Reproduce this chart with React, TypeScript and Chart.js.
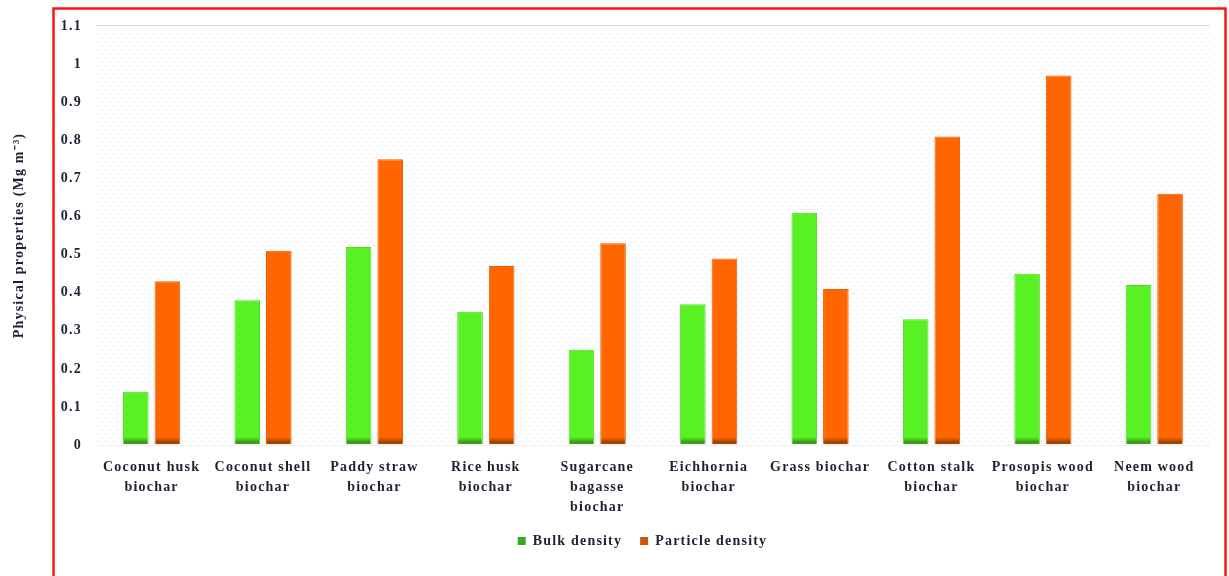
import React, { useEffect, useRef } from "react";
import { Chart, registerables } from "chart.js";

Chart.register(...registerables);

const categories: string[][] = [
  ["Coconut husk", "biochar"],
  ["Coconut shell", "biochar"],
  ["Paddy straw", "biochar"],
  ["Rice husk", "biochar"],
  ["Sugarcane", "bagasse", "biochar"],
  ["Eichhornia", "biochar"],
  ["Grass biochar"],
  ["Cotton stalk", "biochar"],
  ["Prosopis wood", "biochar"],
  ["Neem wood", "biochar"],
];

const bulkDensity: number[] = [0.14, 0.38, 0.52, 0.35, 0.25, 0.37, 0.61, 0.33, 0.45, 0.42];
const particleDensity: number[] = [0.43, 0.51, 0.75, 0.47, 0.53, 0.49, 0.41, 0.81, 0.97, 0.66];

const yTickLabels: string[] = ["0", "0.1", "0.2", "0.3", "0.4", "0.5", "0.6", "0.7", "0.8", "0.9", "1", "1.1"];

const seriesNames = ["Bulk density", "Particle density"];
const brightColors = ["#58f224", "#ff6600"];
const edgeColors = ["#4fdc1f", "#ec5e00"];
const darkColors = ["#3c9a1c", "#a04400"];
const legendColors = ["#3aa822", "#c9580e"];

const FONT = "'Liberation Serif', 'Times New Roman', serif";
const TEXT_COLOR = "#1b2333";
const SPACING = "1.2px";

function barColor(i: number) {
  return (ctx: any) => {
    const chart = ctx.chart;
    const area = chart.chartArea;
    if (!area) return brightColors[i];
    const g = chart.ctx.createLinearGradient(0, area.bottom, 0, area.bottom - 8);
    g.addColorStop(0, darkColors[i]);
    g.addColorStop(0.4, darkColors[i]);
    g.addColorStop(1, brightColors[i]);
    return g;
  };
}

let patternCache: CanvasPattern | null = null;
function getPattern(ctx: CanvasRenderingContext2D) {
  if (patternCache) return patternCache;
  const tile = document.createElement("canvas");
  tile.width = 8;
  tile.height = 8;
  const t = tile.getContext("2d")!;
  t.fillStyle = "#ffffff";
  t.fillRect(0, 0, 8, 8);
  t.fillStyle = "#c4d8ee";
  t.fillRect(1, 1, 1, 1);
  t.fillRect(5, 5, 1, 1);
  patternCache = ctx.createPattern(tile, "repeat");
  return patternCache;
}

const spacingPlugin = {
  id: "spacing",
  beforeUpdate(chart: any) {
    (chart.ctx as any).letterSpacing = SPACING;
  },
  afterLayout(chart: any) {
    // center the legend inside the framed region
    if (chart.legend) {
      chart.legend.left = 56;
      chart.legend.right = 1229;
    }
  },
  beforeDraw(chart: any) {
    (chart.ctx as any).letterSpacing = SPACING;
  },
};

const backgroundPlugin = {
  id: "dotBackground",
  beforeDatasetsDraw(chart: any) {
    const { ctx, chartArea } = chart;
    ctx.save();
    const p = getPattern(ctx);
    if (p) {
      ctx.fillStyle = p;
      const top = chart.scales.y.getPixelForValue(1.1);
      ctx.fillRect(chartArea.left, top, chartArea.right - chartArea.left, chartArea.bottom - top);
    }
    ctx.restore();
  },
};

const frameBorderPlugin = {
  id: "frameBorder",
  afterDraw(chart: any) {
    const ctx = chart.ctx;
    ctx.save();
    ctx.strokeStyle = "#ff1414";
    ctx.lineWidth = 2.5;
    ctx.strokeRect(53.5, 8.5, 1172, 600);
    ctx.restore();
  },
};

export default function App() {
  const canvasRef = useRef<HTMLCanvasElement | null>(null);

  useEffect(() => {
    document.body.style.margin = "0";
    const canvas = canvasRef.current;
    if (!canvas) return;
    const chart = new Chart(canvas, {
      type: "bar",
      data: {
        labels: categories,
        datasets: [
          {
            label: seriesNames[0],
            data: bulkDensity,
            backgroundColor: barColor(0),
            borderColor: edgeColors[0],
            borderWidth: { top: 1, left: 1, right: 1, bottom: 0 },
          },
          {
            label: seriesNames[1],
            data: particleDensity,
            backgroundColor: barColor(1),
            borderColor: edgeColors[1],
            borderWidth: { top: 1, left: 1, right: 1, bottom: 0 },
          },
        ],
      },
      plugins: [spacingPlugin, backgroundPlugin, frameBorderPlugin],
      options: {
        animation: false,
        responsive: true,
        maintainAspectRatio: false,
        datasets: {
          bar: {
            categoryPercentage: 0.567,
            barPercentage: 0.81,
          },
        },
        layout: {
          padding: { left: 7, right: 19, top: 26, bottom: 18 },
        },
        plugins: {
          tooltip: { enabled: false },
          title: { display: false },
          legend: {
            position: "bottom",
            fullSize: false,
            labels: {
              boxWidth: 8,
              boxHeight: 8,
              padding: 18,
              color: TEXT_COLOR,
              font: { family: FONT, size: 14, weight: "bold" },
              generateLabels: (chart: any) =>
                chart.data.datasets.map((ds: any, i: number) => ({
                  text: ds.label,
                  fillStyle: legendColors[i],
                  strokeStyle: legendColors[i],
                  lineWidth: 0,
                  hidden: false,
                  datasetIndex: i,
                  fontColor: TEXT_COLOR,
                })),
            },
          },
        },
        scales: {
          x: {
            grid: { display: false, drawTicks: false },
            border: { display: false },
            afterFit: (scale: any) => {
              scale.height -= 14;
            },
            ticks: {
              color: TEXT_COLOR,
              font: { family: FONT, size: 14, weight: "bold", lineHeight: 1.45 },
              padding: 12,
              maxRotation: 0,
              autoSkip: false,
            },
          },
          y: {
            min: 0,
            max: 1.1,
            grid: { color: "#dcdcdc", lineWidth: 1.5, drawTicks: false },
            border: { display: false },
            ticks: {
              stepSize: 0.1,
              color: TEXT_COLOR,
              font: { family: FONT, size: 14, weight: "bold" },
              padding: 14,
              callback: (_v: any, idx: number) => yTickLabels[idx],
            },
            title: {
              display: true,
              text: "Physical properties (Mg m\u207B\u00B3)",
              color: TEXT_COLOR,
              font: { family: FONT, size: 14, weight: "bold" },
              padding: { top: 4, bottom: 19 },
            },
          },
        },
      } as any,
    });
    return () => chart.destroy();
  }, []);

  return (
    <div style={{ position: "relative", width: "1229px", height: "576px", background: "#ffffff" }}>
      <canvas ref={canvasRef} />
    </div>
  );
}
